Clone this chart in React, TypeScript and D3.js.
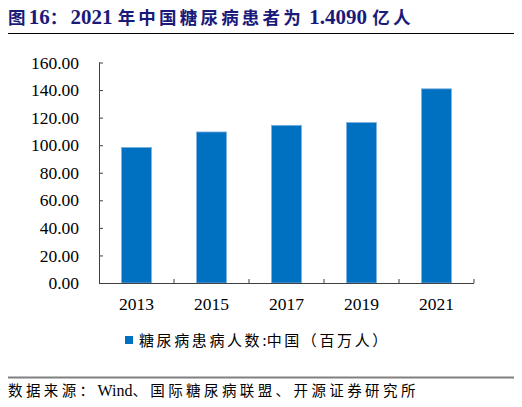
import { useEffect, useRef } from "react";
import * as d3 from "d3";

const years = ["2013", "2015", "2017", "2019", "2021"];
const patients = [98.4, 109.6, 114.4, 116.4, 140.9];
const yTicks = [0, 20, 40, 60, 80, 100, 120, 140, 160];

const TITLE = "图16：2021 年中国糖尿病患者为 1.4090 亿人";
const LEGEND = "糖尿病患病人数:中国（百万人）";
const SOURCE = "数据来源：Wind、国际糖尿病联盟、开源证券研究所";

const SERIF = "'Liberation Serif', serif";
const CJK = "'Noto Sans CJK SC', sans-serif";

type RunStyle = { size: number; spacing: number };

// split text into CJK / latin runs so each gets its own font, like the Word original
function mixedText(
  sel: d3.Selection<SVGTextElement, unknown, null, undefined>,
  text: string,
  cjk: RunStyle,
  latin: RunStyle
) {
  const isCjk = (c: string) => /[\u3000-\u9fff\uff00-\uffef]/.test(c);
  const runs: { t: string; c: boolean }[] = [];
  for (const ch of text) {
    const c = isCjk(ch);
    const last = runs[runs.length - 1];
    if (last && last.c === c) last.t += ch;
    else runs.push({ t: ch, c });
  }
  for (const r of runs) {
    const s = r.c ? cjk : latin;
    sel.append("tspan")
      .attr("font-family", r.c ? CJK : SERIF)
      .attr("font-size", s.size)
      .attr("letter-spacing", s.spacing)
      .style("white-space", "pre")
      .text(r.t);
  }
}

export default function App() {
  const svgRef = useRef<SVGSVGElement>(null);

  useEffect(() => {
    const svgEl = svgRef.current;
    if (!svgEl) return;
    const width = 522;
    const height = 407;
    const margin = { top: 62.5, left: 99, right: 48, bottom: 124 };
    const innerW = width - margin.left - margin.right;
    const innerH = height - margin.top - margin.bottom;

    const svg = d3.select(svgEl);
    svg.selectAll("*").remove();
    svg.append("rect").attr("width", width).attr("height", height).attr("fill", "#fff");

    // ── title + rules ──
    const title = svg.append("text")
      .attr("x", 8).attr("y", 24)
      .attr("font-weight", "bold")
      .attr("fill", "#1a1a7a")
      .attr("xml:space", "preserve");
    mixedText(title, TITLE, { size: 17.5, spacing: 3.2 }, { size: 21, spacing: 0 });

    svg.append("line").attr("x1", 6).attr("x2", 516).attr("y1", 33.5).attr("y2", 33.5)
      .attr("stroke", "#000").attr("stroke-width", 1);
    svg.append("line").attr("x1", 6).attr("x2", 516).attr("y1", 377.5).attr("y2", 377.5)
      .attr("stroke", "#808080").attr("stroke-width", 2);

    const src = svg.append("text")
      .attr("x", 8).attr("y", 396)
      .attr("fill", "#000")
      .attr("xml:space", "preserve");
    mixedText(src, SOURCE, { size: 14.5, spacing: 3.4 }, { size: 16, spacing: 0 });

    // ── scales ──
    const x = d3.scaleBand().domain(years).range([0, innerW]).paddingInner(0.6).paddingOuter(0.3);
    const y = d3.scaleLinear().domain([0, 160]).range([innerH, 0]);

    const g = svg.append("g").attr("transform", `translate(${margin.left},${margin.top})`);

    g.selectAll("rect.bar")
      .data(patients)
      .join("rect")
      .attr("class", "bar")
      .attr("x", (_, i) => x(years[i]) ?? 0)
      .attr("width", x.bandwidth())
      .attr("y", (d) => y(d))
      .attr("height", (d) => innerH - y(d))
      .attr("fill", "#0070c0")
      .attr("stroke", "#7fb2e0")
      .attr("stroke-width", 0.8);

    // ── y axis, ticks pointing inward ──
    const yAxis = g.append("g")
      .call(d3.axisRight(y).tickValues(yTicks).tickSize(4).tickFormat((d) => (d as number).toFixed(2)));
    yAxis.select(".domain").attr("stroke", "#404040").attr("d", `M0.5,0V${innerH}`);
    yAxis.selectAll(".tick line").attr("stroke", "#404040");
    yAxis.selectAll(".tick text")
      .attr("x", -20).attr("text-anchor", "end")
      .attr("font-family", SERIF).attr("font-size", 17.5).attr("fill", "#000");

    // ── x axis: ticks at band boundaries pointing up ──
    const xg = g.append("g").attr("transform", `translate(0,${innerH})`);
    xg.append("line").attr("x1", 0).attr("x2", innerW).attr("y1", 0.5).attr("y2", 0.5)
      .attr("stroke", "#404040");
    const bounds = d3.range(1, years.length + 1).map((i) => i * x.step());
    xg.selectAll("line.tk")
      .data(bounds)
      .join("line")
      .attr("class", "tk")
      .attr("x1", (d) => d).attr("x2", (d) => d)
      .attr("y1", 0).attr("y2", -4)
      .attr("stroke", "#404040");
    xg.selectAll("text.yr")
      .data(years)
      .join("text")
      .attr("class", "yr")
      .attr("x", (d) => (x(d) ?? 0) + x.bandwidth() / 2)
      .attr("y", 27)
      .attr("text-anchor", "middle")
      .attr("font-family", SERIF).attr("font-size", 17.5).attr("fill", "#000")
      .text((d) => d);

    // ── legend ──
    const lg = svg.append("g").attr("transform", "translate(125,336)");
    lg.append("rect").attr("width", 8).attr("height", 8).attr("fill", "#0070c0");
    const lt = lg.append("text").attr("x", 14).attr("y", 10).attr("fill", "#000");
    mixedText(lt, LEGEND, { size: 15, spacing: 2.6 }, { size: 16, spacing: 0 });
  }, []);

  return (
    <div style={{ margin: -8 }}>
      <svg ref={svgRef} width={522} height={407} style={{ display: "block" }} />
    </div>
  );
}
